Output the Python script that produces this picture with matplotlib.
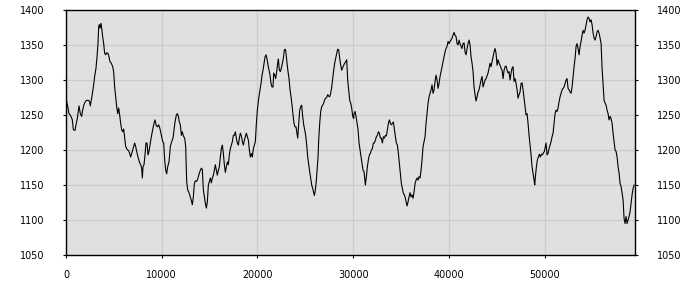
import matplotlib
matplotlib.use("Agg")
import matplotlib.pyplot as plt

x_values = [
    0, 209, 313, 488, 662, 766, 940, 1045, 1184, 1358, 1498, 1637, 1742, 1881, 2020, 2159, 2299, 2438,
    2543, 2612, 2717, 2856, 2995, 3135, 3239, 3344, 3413, 3483, 3553, 3657, 3727, 3831, 3936, 4040,
    4145, 4249, 4389, 4493, 4598, 4737, 4876, 4981, 5085, 5190, 5294, 5399, 5503, 5608, 5712, 5817,
    5921, 6026, 6130, 6235, 6339, 6444, 6548, 6653, 6757, 6862, 6966, 7071, 7175, 7280, 7384, 7523,
    7663, 7802, 7906, 7976, 8046, 8150, 8255, 8359, 8464, 8568, 8673, 8777, 8917, 9056, 9195, 9300,
    9404, 9543, 9683, 9787, 9892, 9996,
    10102, 10206, 10311, 10415, 10520, 10624, 10763, 10903, 11042, 11181, 11286, 11390, 11530, 11634,
    11739, 11843, 11948, 12052, 12157, 12261, 12400, 12505, 12609, 12714, 12818, 12923, 13027, 13132,
    13202, 13306, 13411, 13515, 13620, 13724, 13829, 13933, 14038, 14142, 14247, 14351, 14456, 14560,
    14665, 14769, 14874, 14978, 15083, 15187, 15292, 15396, 15501, 15605, 15710, 15814, 15919, 16023,
    16128, 16232, 16337, 16441, 16546, 16650, 16755, 16859, 16964, 17068, 17173, 17277, 17382, 17486,
    17591, 17695, 17800, 17904, 18009, 18113, 18218, 18322, 18427, 18531, 18636, 18740, 18845, 18949,
    19054, 19158, 19263, 19367, 19472, 19576, 19681, 19785, 19890, 19994,
    20134, 20273, 20377, 20482, 20586, 20691, 20795, 20900, 21004, 21109, 21213, 21318, 21422, 21527,
    21631, 21701, 21805, 21910, 22014, 22119, 22189, 22293, 22398, 22502, 22607, 22711, 22816, 22920,
    22990, 23094, 23199, 23303, 23408, 23512, 23617, 23721, 23826, 23930, 24035, 24139, 24209, 24313,
    24418, 24522, 24627, 24731, 24836, 24940, 25045, 25149, 25254, 25358, 25463, 25567, 25672, 25776,
    25881, 25951, 26055, 26160, 26264, 26334, 26403, 26508, 26612, 26717, 26821, 26926, 27030, 27135,
    27239, 27344, 27448, 27553, 27657, 27762, 27866, 27971, 28075, 28180, 28284, 28389, 28493, 28598,
    28702, 28807, 28911, 29016, 29120, 29225, 29329, 29434, 29538, 29643, 29747, 29852, 29956, 30061,
    30096, 30200, 30305, 30409, 30514, 30618, 30723, 30827, 30932, 31036, 31141, 31280, 31385, 31489,
    31594, 31698, 31803, 31907, 32012, 32116, 32221, 32325, 32430, 32534, 32639, 32743, 32848, 32952,
    33057, 33161, 33266, 33370, 33475, 33579, 33684, 33788, 33893, 33997, 34102, 34206, 34311, 34415,
    34520, 34624, 34729, 34833, 34938, 35042, 35147, 35251, 35356, 35460, 35565, 35634, 35739, 35843,
    35948, 36052, 36157, 36261, 36366, 36470, 36575, 36679, 36784, 36888, 36993, 37097, 37202, 37306,
    37411, 37515, 37620, 37724, 37829, 37933, 38038, 38142, 38247, 38351, 38456, 38560, 38665, 38769,
    38874, 38978, 39083, 39187, 39292, 39396, 39501, 39605, 39710, 39814, 39919, 40023,
    40128, 40232, 40337, 40441, 40546, 40650, 40755, 40859, 40964, 41068, 41173, 41277, 41382, 41486,
    41591, 41695, 41800, 41904, 42009, 42113, 42218, 42322, 42427, 42531, 42636, 42740, 42845, 42949,
    43054, 43158, 43263, 43367, 43472, 43576, 43681, 43785, 43890, 43994, 44099, 44203, 44308, 44412,
    44517, 44621, 44726, 44830, 44935, 45039, 45144, 45248, 45353, 45457, 45562, 45666, 45771, 45875,
    45980, 46084, 46189, 46293, 46398, 46502, 46607, 46711, 46816, 46920, 47025, 47129, 47234, 47338,
    47443, 47547, 47652, 47756, 47861, 47965, 48070, 48174, 48279, 48383, 48488, 48592, 48697, 48801,
    48906, 48976, 49045, 49150, 49254, 49359, 49463, 49568, 49672, 49777, 49881, 49986, 50090,
    50160, 50264, 50369, 50473, 50578, 50682, 50787, 50891, 50996, 51100, 51205, 51309, 51414, 51518,
    51623, 51727, 51832, 51936, 52041, 52145, 52250, 52354, 52459, 52563, 52668, 52772, 52877, 52981,
    53086, 53190, 53295, 53399, 53504, 53608, 53713, 53817, 53922, 54026, 54131, 54235, 54340, 54444,
    54549, 54653, 54758, 54862, 54967, 55071, 55176, 55280, 55385, 55489, 55594, 55698, 55803, 55907,
    56012, 56116, 56221, 56325, 56430, 56534, 56639, 56743, 56848, 56952, 57057, 57161, 57266, 57370,
    57475, 57579, 57684, 57788, 57893, 57997, 58102, 58206, 58311, 58415, 58520, 58624, 58729, 58833,
    58938, 59042, 59147, 59251, 59356,
]

y_values = [
    1274, 1260, 1252, 1249, 1243, 1229, 1228, 1236, 1245, 1263, 1252, 1248, 1257, 1265, 1269, 1271, 1271, 1270,
    1263, 1269, 1277, 1290, 1305, 1317, 1333, 1352, 1376, 1379, 1374, 1381, 1374, 1362, 1352, 1338,
    1336, 1339, 1338, 1333, 1326, 1324, 1319, 1312, 1290, 1276, 1262, 1252, 1260, 1250, 1238, 1229,
    1226, 1230, 1217, 1205, 1202, 1200, 1199, 1195, 1190, 1195, 1200, 1205, 1210, 1205, 1198, 1190,
    1183, 1179, 1174, 1160, 1176, 1179, 1193, 1210, 1210, 1193, 1198, 1207, 1219, 1229, 1238, 1243,
    1236, 1233, 1236, 1232, 1226, 1219,
    1212, 1210, 1186, 1171, 1166, 1176, 1183, 1205, 1212, 1217, 1229, 1240, 1250, 1252,
    1248, 1240, 1236, 1221, 1226, 1220, 1217, 1205, 1155, 1143, 1140, 1136, 1131, 1126,
    1122, 1133, 1152, 1156, 1155, 1157, 1162, 1167, 1171, 1174, 1172, 1143, 1133, 1124,
    1117, 1126, 1150, 1155, 1160, 1153, 1160, 1164, 1171, 1179, 1171, 1164, 1171, 1176,
    1190, 1202, 1207, 1195, 1179, 1168, 1176, 1183, 1179, 1193, 1202, 1207, 1212, 1221,
    1221, 1226, 1217, 1210, 1207, 1217, 1224, 1220, 1212, 1207, 1214, 1219, 1224, 1219,
    1214, 1200, 1190, 1195, 1190, 1202, 1207, 1212, 1238, 1257,
    1274, 1286, 1295, 1307, 1314, 1324, 1333, 1336, 1330, 1321, 1314, 1307, 1295, 1290,
    1290, 1310, 1307, 1302, 1312, 1324, 1330, 1314, 1312, 1317, 1324, 1331, 1343, 1344,
    1338, 1324, 1312, 1302, 1286, 1276, 1264, 1250, 1238, 1233, 1233, 1224, 1217, 1238,
    1257, 1262, 1264, 1248, 1236, 1229, 1221, 1207, 1190, 1179, 1169, 1160, 1150, 1145,
    1139, 1135, 1143, 1157, 1176, 1190, 1214, 1238, 1255, 1262, 1264, 1267, 1272, 1274,
    1275, 1279, 1277, 1276, 1281, 1290, 1302, 1314, 1324, 1331, 1338, 1344, 1343, 1331,
    1321, 1314, 1318, 1321, 1324, 1326, 1329, 1300, 1286, 1271, 1267, 1260, 1248, 1245,
    1252, 1255, 1248, 1238, 1229, 1210, 1200, 1190, 1181, 1171, 1169, 1150, 1162, 1176,
    1186, 1193, 1195, 1200, 1202, 1210, 1210, 1214, 1219, 1221, 1226, 1224, 1217, 1217,
    1210, 1219, 1217, 1221, 1220, 1229, 1238, 1243, 1238, 1236, 1238, 1240, 1229, 1219,
    1210, 1207, 1195, 1181, 1167, 1152, 1145, 1138, 1136, 1131, 1124, 1120, 1126, 1133,
    1139, 1133, 1136, 1131, 1140, 1152, 1157, 1160, 1157, 1162, 1160, 1171, 1186, 1205,
    1212, 1219, 1238, 1252, 1267, 1276, 1281, 1286, 1293, 1281, 1286, 1298, 1307, 1300,
    1288, 1295, 1305, 1312, 1319, 1326, 1333, 1340, 1345, 1348, 1355, 1352,
    1355, 1357, 1360, 1364, 1368, 1364, 1362, 1352, 1350, 1357, 1352, 1348, 1345, 1352,
    1353, 1340, 1336, 1345, 1352, 1357, 1350, 1333, 1324, 1312, 1290, 1279, 1270, 1276,
    1283, 1286, 1293, 1300, 1305, 1290, 1295, 1300, 1302, 1306, 1310, 1317, 1324, 1319,
    1326, 1333, 1340, 1345, 1338, 1321, 1329, 1324, 1321, 1317, 1314, 1302, 1314, 1319,
    1320, 1314, 1310, 1312, 1300, 1310, 1317, 1319, 1298, 1302, 1295, 1286, 1274, 1279,
    1283, 1295, 1296, 1286, 1274, 1262, 1250, 1252, 1238, 1221, 1207, 1193, 1176, 1167,
    1157, 1150, 1162, 1176, 1186, 1190, 1194, 1190, 1194, 1193, 1196, 1198, 1205,
    1210, 1193, 1195, 1202, 1207, 1212, 1219, 1224, 1238, 1252, 1257, 1255, 1260, 1269,
    1276, 1281, 1286, 1288, 1290, 1295, 1300, 1302, 1288, 1286, 1283, 1281, 1290, 1305,
    1319, 1331, 1348, 1352, 1345, 1336, 1348, 1355, 1364, 1371, 1367, 1371, 1379, 1386,
    1390, 1388, 1383, 1386, 1379, 1367, 1360, 1357, 1362, 1369, 1371, 1367, 1360, 1352,
    1317, 1295, 1271, 1267, 1264, 1257, 1252, 1243, 1248, 1245, 1238, 1224, 1212, 1200,
    1198, 1190, 1176, 1167, 1152, 1148, 1138, 1129, 1102, 1095, 1105, 1095, 1100, 1105,
    1112, 1124, 1136, 1145, 1150,
]

x_ticks = [0, 10000, 20000, 30000, 40000, 50000]
y_ticks = [1050, 1100, 1150, 1200, 1250, 1300, 1350, 1400]

fig = plt.figure(figsize=(7, 3), dpi=100)
ax = fig.add_axes([66 / 700, 45 / 300, 568.5 / 700, 245 / 300])
ax.set_facecolor("#e0e0e0")
ax.plot(x_values, y_values, color="black", linewidth=0.8)

ax.set_xlim(0, 59400)
ax.set_ylim(1050, 1400)
ax.set_xticks(x_ticks)
ax.set_yticks(y_ticks)
ax.set_xticklabels([str(t) for t in x_ticks])
ax.set_yticklabels([str(t) for t in y_ticks])
ax.grid(True, color="#cccccc", linewidth=0.9)
ax.set_axisbelow(True)

for side in ["left", "right", "top", "bottom"]:
    ax.spines[side].set_color("black")
    ax.spines[side].set_linewidth(1.0)

ax.tick_params(axis="y", which="both", left=True, right=True, labelleft=True, labelright=True,
               direction="out", length=2, width=0.8, pad=13.8, labelsize=6.9, colors="black")
ax.tick_params(axis="x", direction="out", length=2, width=0.8, pad=9, labelsize=6.9, colors="black")

fig.savefig("out.png", dpi=100, facecolor="white")
